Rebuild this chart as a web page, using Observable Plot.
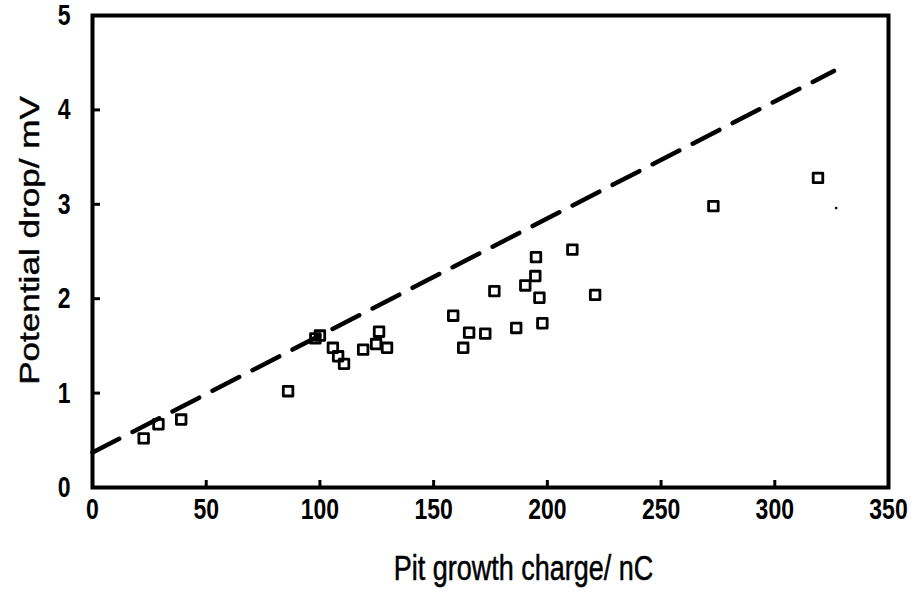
<!DOCTYPE html>
<html>
<head>
<meta charset="utf-8">
<script src="https://cdn.jsdelivr.net/npm/d3@7"></script>
<script src="https://cdn.jsdelivr.net/npm/@observablehq/plot@0.6"></script>
<style>
  html, body { margin: 0; padding: 0; background: #fff; }
  #chart { width: 919px; height: 601px; }
</style>
</head>
<body>
<div id="chart"></div>
<script>
// Pit growth charge (nC) vs potential drop (mV), measured pits
const charge = [22.5, 29, 39, 86, 98, 100, 105.7, 108, 110.6, 119, 126, 124.7, 129.5,
  158.6, 165.6, 163, 172.7, 176.7, 186.3, 190.3, 195, 194.7, 196.5, 197.8, 211, 221, 273, 319];
const drop = [0.52, 0.67, 0.72, 1.02, 1.58, 1.61, 1.48, 1.39, 1.31, 1.46, 1.65, 1.52, 1.48,
  1.82, 1.64, 1.48, 1.63, 2.08, 1.69, 2.14, 2.44, 2.24, 2.01, 1.74, 2.52, 2.04, 2.98, 3.28];

// stray speck near the right edge
const speckX = [327];
const speckY = [2.96];

// linear estimate drawn as the dashed line
const fitIntercept = 0.37;
const fitSlope = 0.0124;
const fitRange = [0, 326];

const xTicks = [0, 50, 100, 150, 200, 250, 300, 350];
const yTicks = [0, 1, 2, 3, 4, 5];
const xTitle = "Pit growth charge/ nC";
const yTitle = "Potential drop/ mV";

const points = charge.map((c, i) => ({charge: c, drop: drop[i]}));
const fit = fitRange.map(c => ({charge: c, drop: fitIntercept + fitSlope * c}));
const specks = speckX.map((c, i) => ({charge: c, drop: speckY[i]}));

const font = "'Liberation Sans', Arial, sans-serif";

const chart = Plot.plot({
  width: 919,
  height: 601,
  marginLeft: 92,
  marginRight: 31,
  marginTop: 15,
  marginBottom: 114,
  style: {fontFamily: font, background: "#fff", color: "#000"},
  x: {domain: [0, 350]},
  y: {domain: [0, 5]},
  marks: [
    Plot.line(fit, {x: "charge", y: "drop", stroke: "#000", strokeWidth: 4.5, strokeDasharray: "30,15"}),
    Plot.dot(points, {x: "charge", y: "drop", symbol: "square", r: 5.4, stroke: "#000", strokeWidth: 2.8, strokeLinejoin: "round", fill: "none"}),
    Plot.dot(specks, {x: "charge", y: "drop", r: 1.3, fill: "#000", stroke: "none"}),
    // tick marks, shifted so they point into the frame
    Plot.axisX(xTicks, {tickSize: 7, dy: -7, strokeWidth: 3, tickFormat: () => "", label: null}),
    Plot.axisY(yTicks, {tickSize: 8, dx: 8, strokeWidth: 3, tickFormat: () => "", label: null}),
    // tick labels
    Plot.axisX(xTicks, {tickSize: 0, tickPadding: 10, fontSize: 23, fontWeight: "bold", tickFormat: d => String(d), label: null}),
    Plot.axisY(yTicks, {tickSize: 0, tickPadding: 22, fontSize: 23, fontWeight: "bold", tickFormat: d => String(d), label: null}),
    Plot.frame({stroke: "#000", strokeWidth: 4}),
    // axis titles
    Plot.text([xTitle], {frameAnchor: "bottom", dx: 33, dy: 92, fontSize: 27, fill: "#000", stroke: "#000", strokeWidth: 0.4}),
    Plot.text([yTitle], {frameAnchor: "left", textAnchor: "middle", rotate: -90, dx: -62, dy: -11, fontSize: 27, fill: "#000", stroke: "#000", strokeWidth: 0.4})
  ]
});

// letterforms in this figure are tall and narrow: stretch every label vertically
const stretch = 1.3;
d3.select(chart).selectAll("text").each(function () {
  const t = this.getAttribute("transform") || "";
  const sc = /rotate/.test(t) ? `scale(${stretch},1)` : `scale(1,${stretch})`;
  this.setAttribute("transform", `${t} ${sc}`);
});

document.getElementById("chart").append(chart);
</script>
</body>
</html>
